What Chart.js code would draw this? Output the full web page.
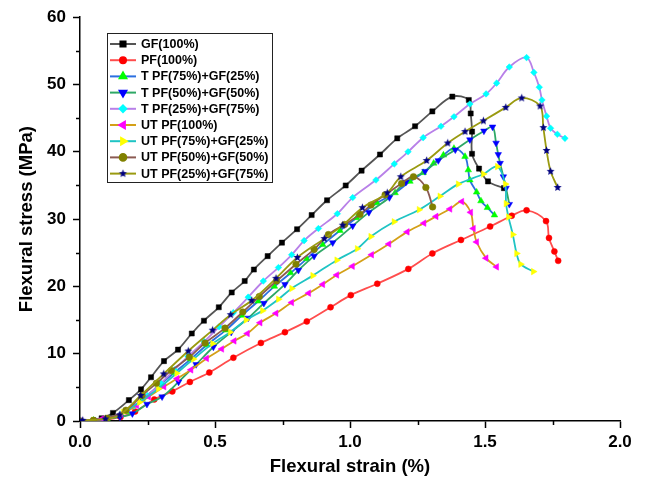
<!DOCTYPE html>
<html>
<head>
<meta charset="utf-8">
<script src="https://cdn.jsdelivr.net/npm/chart.js@4.4.0/dist/chart.umd.min.js"></script>
<style>
  html, body { margin: 0; padding: 0; background: #fff; }
</style>
</head>
<body>
<canvas id="chart" width="646" height="481"></canvas>
<script>
// strain (%) / stress (MPa)
const gfStrain = [0, 0.05, 0.08, 0.122, 0.181, 0.226, 0.263, 0.311, 0.363, 0.414, 0.459, 0.514, 0.562, 0.610, 0.644, 0.695, 0.748, 0.804, 0.858, 0.915, 0.984, 1.043, 1.111, 1.175, 1.241, 1.305, 1.379, 1.44, 1.447, 1.452, 1.452, 1.478, 1.511, 1.57];
const gfStress = [0, 0.1, 0.4, 1.2, 3.1, 4.7, 6.5, 8.9, 10.6, 13.0, 14.9, 16.9, 19.1, 20.8, 22.5, 24.5, 26.5, 28.5, 30.6, 32.8, 35.0, 37.2, 39.6, 42.0, 43.8, 46.0, 48.2, 47.7, 45.7, 43.0, 39.7, 37.5, 35.6, 34.6];

const pfStrain = [0, 0.05, 0.1, 0.15, 0.204, 0.275, 0.342, 0.407, 0.479, 0.568, 0.67, 0.759, 0.84, 0.928, 1.003, 1.101, 1.216, 1.305, 1.411, 1.519, 1.599, 1.654, 1.726, 1.737, 1.757, 1.771];
const pfStress = [0, 0.05, 0.2, 0.6, 1.4, 3.2, 4.4, 5.8, 7.2, 9.4, 11.6, 13.2, 14.8, 16.9, 18.7, 20.4, 22.6, 24.9, 26.9, 28.9, 30.5, 31.3, 29.7, 27.2, 25.2, 23.8];

const t75Strain = [0, 0.05, 0.1, 0.17, 0.23, 0.29, 0.35, 0.41, 0.47, 0.54, 0.6, 0.66, 0.72, 0.78, 0.84, 0.899, 0.963, 1.025, 1.10, 1.167, 1.222, 1.271, 1.31, 1.346, 1.385, 1.426, 1.438, 1.444, 1.469, 1.485, 1.509, 1.535];
const t75Stress = [0, 0.1, 0.3, 1.4, 3.2, 5.2, 7.2, 9.2, 11.3, 13.5, 15.7, 17.8, 20.0, 22.0, 24.1, 26.2, 28.3, 30.2, 32.4, 33.9, 35.6, 36.9, 38.3, 39.5, 40.5, 39.3, 37.3, 35.8, 34.0, 32.7, 31.7, 30.6];

const t50Strain = [0, 0.06, 0.148, 0.194, 0.248, 0.304, 0.365, 0.43, 0.494, 0.56, 0.623, 0.681, 0.759, 0.809, 0.867, 0.936, 1.01, 1.07, 1.146, 1.207, 1.278, 1.327, 1.39, 1.444, 1.496, 1.528, 1.541, 1.549, 1.556, 1.568, 1.578, 1.59];
const t50Stress = [0, 0.1, 0.6, 1.1, 2.5, 3.6, 5.8, 8.4, 11.0, 13.2, 15.3, 17.5, 20.3, 22.4, 24.5, 26.5, 29.0, 31.0, 33.2, 35.5, 37.1, 38.7, 40.3, 41.8, 43.1, 43.7, 41.3, 39.6, 38.3, 36.3, 34.6, 32.2];

const t25Strain = [0, 0.1, 0.15, 0.2, 0.25, 0.3, 0.35, 0.40, 0.46, 0.515, 0.568, 0.623, 0.679, 0.735, 0.784, 0.83, 0.883, 0.953, 1.01, 1.096, 1.164, 1.215, 1.271, 1.337, 1.385, 1.444, 1.504, 1.543, 1.59, 1.654, 1.681, 1.701, 1.711, 1.728, 1.743, 1.768, 1.796];
const t25Stress = [0, 0.3, 1.0, 2.2, 3.8, 5.6, 7.6, 9.6, 11.8, 14.0, 16.1, 18.4, 20.8, 22.8, 24.7, 26.8, 28.6, 30.8, 33.2, 35.8, 38.2, 40.0, 42.1, 43.8, 45.2, 47.1, 48.6, 50.2, 52.6, 54.0, 51.8, 49.6, 47.7, 45.3, 43.5, 42.6, 42.0];

const ut100Strain = [0, 0.08, 0.15, 0.21, 0.254, 0.311, 0.36, 0.411, 0.469, 0.525, 0.571, 0.62, 0.667, 0.726, 0.784, 0.847, 0.899, 0.951, 1.009, 1.08, 1.144, 1.212, 1.274, 1.319, 1.37, 1.414, 1.447, 1.457, 1.469, 1.504, 1.543];
const ut100Stress = [0, 0.3, 1.0, 2.3, 3.6, 5.1, 6.3, 7.6, 9.3, 10.7, 11.9, 13.0, 14.6, 16.0, 17.6, 19.0, 20.3, 21.7, 23.0, 24.7, 26.3, 28.1, 29.4, 30.4, 31.5, 32.6, 31.0, 28.6, 26.6, 24.2, 22.9];

const ut75Strain = [0, 0.05, 0.1, 0.16, 0.22, 0.29, 0.358, 0.42, 0.491, 0.556, 0.615, 0.676, 0.735, 0.784, 0.862, 0.951, 1.027, 1.077, 1.163, 1.256, 1.333, 1.401, 1.494, 1.546, 1.575, 1.578, 1.587, 1.603, 1.617, 1.632, 1.679];
const ut75Stress = [0, 0.1, 0.4, 1.3, 2.8, 4.8, 7.1, 9.2, 11.5, 13.2, 15.0, 16.4, 18.1, 19.7, 21.6, 23.9, 25.6, 27.4, 29.6, 31.4, 33.4, 35.2, 36.7, 37.8, 35.2, 32.3, 30.3, 27.7, 24.9, 23.3, 22.2];

const ut50Strain = [0, 0.05, 0.1, 0.17, 0.23, 0.283, 0.338, 0.405, 0.463, 0.537, 0.603, 0.664, 0.728, 0.8, 0.867, 0.92, 0.98, 1.037, 1.078, 1.13, 1.191, 1.235, 1.281, 1.306];
const ut50Stress = [0, 0.1, 0.4, 1.6, 3.8, 5.6, 7.5, 9.5, 11.6, 13.8, 16.2, 18.5, 20.8, 23.3, 25.5, 27.7, 29.2, 30.7, 32.1, 33.6, 35.3, 36.3, 34.7, 31.8];

const ut25Strain = [0, 0.01, 0.094, 0.147, 0.225, 0.31, 0.401, 0.491, 0.558, 0.636, 0.726, 0.805, 0.905, 0.973, 1.046, 1.138, 1.188, 1.284, 1.362, 1.426, 1.494, 1.577, 1.636, 1.704, 1.716, 1.728, 1.743, 1.769];
const ut25Stress = [0, 0.1, 0.3, 0.9, 3.8, 7.0, 10.4, 13.5, 15.8, 17.9, 21.2, 24.3, 27.1, 29.1, 31.7, 33.9, 36.3, 38.7, 41.3, 43.0, 44.6, 46.6, 48.0, 46.8, 43.6, 40.2, 37.1, 34.7];

const xMinorTicks = [0.25, 0.75, 1.25, 1.75];
const yMinorTicks = [5, 15, 25, 35, 45, 55];

const FONT = '"Liberation Sans", Arial, sans-serif';

function starImage(r, color) {
  const cv = document.createElement("canvas");
  const s = Math.ceil(r * 2 + 2);
  cv.width = cv.height = s;
  const g = cv.getContext("2d");
  g.fillStyle = color;
  g.beginPath();
  for (let i = 0; i < 10; i++) {
    const rad = i % 2 ? r * 0.45 : r;
    const a = -Math.PI / 2 + i * Math.PI / 5;
    g.lineTo(s / 2 + rad * Math.cos(a), s / 2 + rad * Math.sin(a));
  }
  g.closePath();
  g.fill();
  return cv;
}

const series = [
  { label: "GF(100%)",           xs: gfStrain,    ys: gfStress,    line: "#555555", mark: "#000000", style: "rect",     r: 3.6, rot: 0 },
  { label: "PF(100%)",           xs: pfStrain,    ys: pfStress,    line: "#ff4d4d", mark: "#ff0000", style: "circle",   r: 3,   rot: 0 },
  { label: "T PF(75%)+GF(25%)",  xs: t75Strain,   ys: t75Stress,   line: "#2b6fe0", mark: "#00ff00", style: "triangle", r: 3.8, rot: 0 },
  { label: "T PF(50%)+GF(50%)",  xs: t50Strain,   ys: t50Stress,   line: "#2ea866", mark: "#0000ff", style: "triangle", r: 3.8, rot: 180 },
  { label: "T PF(25%)+GF(75%)",  xs: t25Strain,   ys: t25Stress,   line: "#b880e8", mark: "#00ffff", style: "rectRot",  r: 3.3, rot: 0 },
  { label: "UT PF(100%)",        xs: ut100Strain, ys: ut100Stress, line: "#d4a017", mark: "#ff00ff", style: "triangle", r: 3.8, rot: 270 },
  { label: "UT PF(75%)+GF(25%)", xs: ut75Strain,  ys: ut75Stress,  line: "#1fc4c4", mark: "#ffff00", style: "triangle", r: 3.8, rot: 90 },
  { label: "UT PF(50%)+GF(50%)", xs: ut50Strain,  ys: ut50Stress,  line: "#8b5a52", mark: "#808000", style: "circle",   r: 3.3, rot: 0 },
  { label: "UT PF(25%)+GF(75%)", xs: ut25Strain,  ys: ut25Stress,  line: "#9a9a10", mark: "#000080", style: starImage(4.2, "#000080"), r: 4, rot: 0 },
];

const datasets = series.map((s, i) => ({
  label: s.label,
  data: s.xs.map((x, k) => ({ x, y: s.ys[k] })),
  showLine: true,
  borderColor: s.line,
  borderWidth: 1.8,
  tension: 0.35,
  pointStyle: s.style,
  pointRadius: s.r,
  pointRotation: s.rot,
  pointBackgroundColor: s.mark,
  pointBorderColor: s.mark,
  pointBorderWidth: 0.5,
  order: series.length - i,
}));

// framed legend with line + marker samples
const boxLegend = {
  id: "boxLegend",
  afterDraw(chart) {
    const ctx = chart.ctx;
    ctx.save();
    ctx.fillStyle = "#fff";
    ctx.fillRect(107, 33, 165, 149);
    ctx.strokeStyle = "#222";
    ctx.lineWidth = 1;
    ctx.strokeRect(107.5, 33.5, 165, 149);
    series.forEach((s, i) => {
      const y = 44 + i * 16.2;
      ctx.strokeStyle = s.line;
      ctx.lineWidth = 2;
      ctx.beginPath(); ctx.moveTo(110, y); ctx.lineTo(136, y); ctx.stroke();
      ctx.fillStyle = s.mark;
      ctx.strokeStyle = s.mark;
      Chart.helpers.drawPoint(ctx, { pointStyle: s.style, radius: s.r, rotation: s.rot, borderWidth: 0.5 }, 123, y);
      ctx.fillStyle = "#000";
      ctx.font = "bold 12.5px " + FONT;
      ctx.textBaseline = "middle";
      ctx.textAlign = "left";
      ctx.fillText(s.label, 141, y + 0.5);
    });
    ctx.restore();
  }
};

const minorTicks = {
  id: "minorTicks",
  afterDraw(chart) {
    const { x, y } = chart.scales;
    const ctx = chart.ctx;
    ctx.save();
    ctx.strokeStyle = "#000";
    ctx.lineWidth = 1.5;
    ctx.beginPath();
    xMinorTicks.forEach(v => {
      const px = Math.round(x.getPixelForValue(v)) + 0.5;
      ctx.moveTo(px, y.bottom); ctx.lineTo(px, y.bottom + 4);
    });
    yMinorTicks.forEach(v => {
      const py = Math.round(y.getPixelForValue(v)) + 0.5;
      ctx.moveTo(x.left - 4, py); ctx.lineTo(x.left, py);
    });
    ctx.stroke();
    ctx.restore();
  }
};

new Chart(document.getElementById("chart"), {
  type: "scatter",
  data: { datasets },
  plugins: [minorTicks, boxLegend],
  options: {
    responsive: false,
    animation: false,
    devicePixelRatio: 1,
    layout: { padding: { top: 15, right: 26, left: 0, bottom: 0 } },
    plugins: { legend: { display: false }, tooltip: { enabled: false } },
    elements: { point: { hoverRadius: 3 } },
    scales: {
      x: {
        type: "linear", min: 0, max: 2,
        afterFit: (s) => { s.height = 60; },
        grid: { drawOnChartArea: false, tickLength: 7, tickColor: "#000", tickWidth: 1.5 },
        border: { color: "#000", width: 1.5 },
        ticks: { stepSize: 0.5, padding: 4, color: "#000", font: { family: FONT, size: 17, weight: "bold" }, callback: (v) => Number(v).toFixed(1) },
        title: { display: true, text: "Flexural strain (%)", color: "#000", padding: { bottom: 3 }, font: { family: FONT, size: 18.5, weight: "bold" } }
      },
      y: {
        type: "linear", min: 0, max: 60,
        afterFit: (s) => { s.width = 80; },
        grid: { drawOnChartArea: false, tickLength: 7, tickColor: "#000", tickWidth: 1.5 },
        border: { color: "#000", width: 1.5 },
        ticks: { stepSize: 10, padding: 7, color: "#000", font: { family: FONT, size: 17, weight: "bold" } },
        title: { display: true, text: "Flexural stress (MPa)", color: "#000", padding: { top: 16 }, font: { family: FONT, size: 18.5, weight: "bold" } }
      }
    }
  }
});
</script>
</body>
</html>
